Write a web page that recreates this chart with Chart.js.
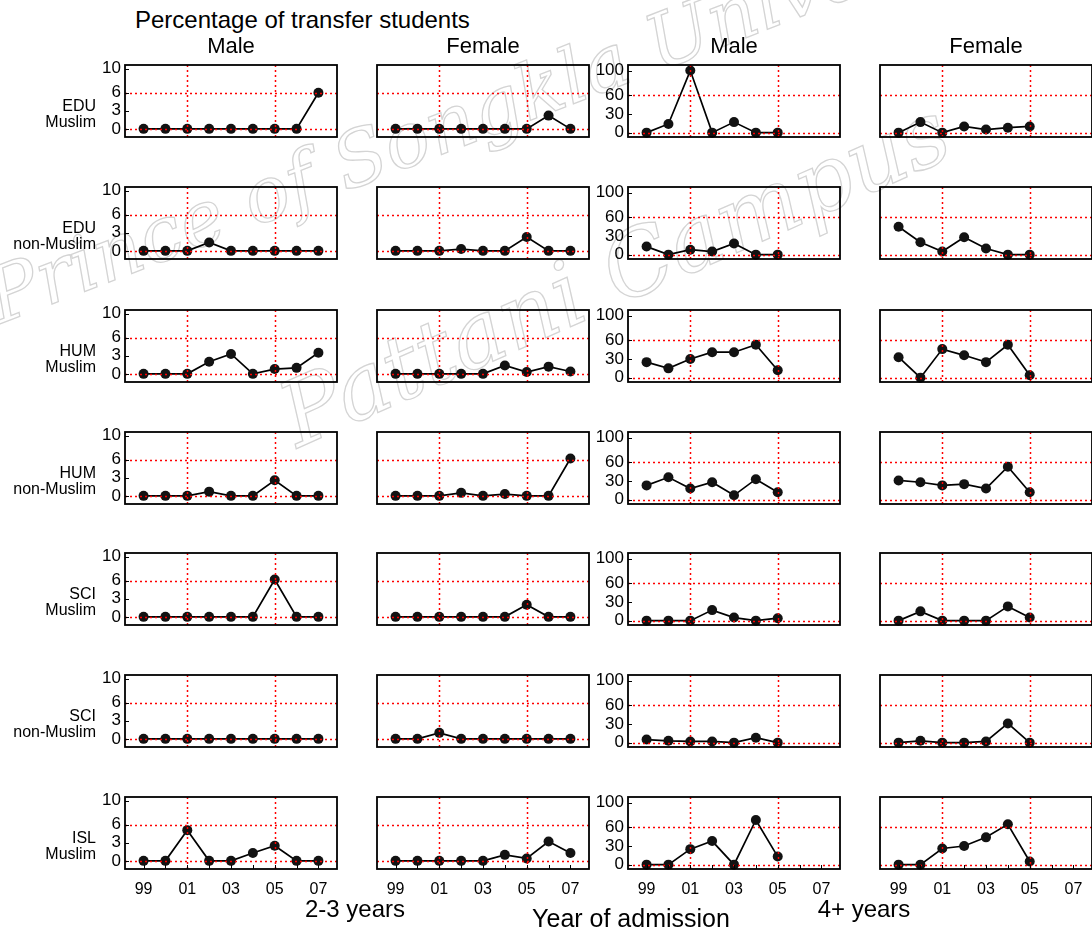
<!DOCTYPE html>
<html>
<head>
<meta charset="utf-8">
<script src="https://cdn.jsdelivr.net/npm/chart.js@4"></script>
<style>
  body { margin: 0; background: #fff; font-family: "Liberation Sans", Arial, sans-serif; }
  #wrap { position: relative; width: 1092px; height: 934px; overflow: hidden; }
  .lbl { position: absolute; white-space: nowrap; color: #000; line-height: 1; }
  .wm { position: absolute; white-space: nowrap; line-height: 1; color: transparent;
        font-family: "DejaVu Serif", serif; font-style: italic;
        -webkit-text-stroke: 1.3px #d4d4d4; transform-origin: 0 50%; }
  canvas { position: absolute; }
</style>
</head>
<body>
<div id="wrap"></div>
<script>
// year index 0 = 1999
var shortYears = [0, 1, 2, 3, 4, 5, 6, 7, 8];   // 2-3 years programmes, 99..07
var longYears = [0, 1, 2, 3, 4, 5, 6];          // 4+ years programmes, 99..05
var xTickPos = [0, 2, 4, 6, 8];
var xTickText = ['99', '01', '03', '05', '07'];
var shortTicks = [0, 3, 6, 10];
var longTicks = [0, 30, 60, 100];

var rowFaculty = ['EDU', 'EDU', 'HUM', 'HUM', 'SCI', 'SCI', 'ISL'];
var rowReligion = ['Muslim', 'non-Muslim', 'Muslim', 'non-Muslim', 'Muslim', 'non-Muslim', 'Muslim'];
var colTitles = ['Male', 'Female', 'Male', 'Female'];

// 2-3 years, male (one row per faculty/religion)
var shortMale = [
  [0, 0, 0, 0, 0, 0, 0, 0, 6],
  [0, 0, 0, 1.4, 0, 0, 0, 0, 0],
  [0, 0, 0, 2.0, 3.3, 0, 0.8, 1.0, 3.5],
  [0, 0, 0, 0.7, 0, 0, 2.6, 0, 0],
  [0, 0, 0, 0, 0, 0, 6.2, 0, 0],
  [0, 0, 0, 0, 0, 0, 0, 0, 0],
  [0, 0, 5.1, 0, 0, 1.3, 2.5, 0, 0]
];
// 2-3 years, female
var shortFemale = [
  [0, 0, 0, 0, 0, 0, 0, 2.2, 0],
  [0, 0, 0, 0.3, 0, 0, 2.3, 0, 0],
  [0, 0, 0, 0, 0, 1.4, 0.3, 1.2, 0.4],
  [0, 0, 0, 0.5, 0, 0.3, 0, 0, 6.2],
  [0, 0, 0, 0, 0, 0, 2.0, 0, 0],
  [0, 0, 1.0, 0, 0, 0, 0, 0, 0],
  [0, 0, 0, 0, 0, 1.0, 0.4, 3.2, 1.3]
];
// 4+ years, male
var longMale = [
  [0, 14, 100, 0, 17, 0, 0],
  [13, 0, 8, 5, 18, 0, 0],
  [25, 15, 30, 41, 41, 53, 12],
  [23, 36, 18, 28, 7, 33, 12],
  [0, 0, 0, 17, 5, 0, 4],
  [5, 3, 2, 2, 0, 8, 0],
  [0, 0, 25, 38, 0, 72, 13]
];
// 4+ years, female
var longFemale = [
  [0, 17, 0, 10, 5, 8, 10],
  [45, 20, 5, 28, 10, 0, 0],
  [33, 0, 46, 36, 25, 53, 4],
  [31, 28, 23, 25, 18, 53, 12],
  [0, 15, 0, 0, 0, 23, 5],
  [0, 3, 0, 0, 2, 31, 0],
  [0, 0, 26, 30, 44, 65, 5]
];

var colLeft = [125, 377, 628, 880];
var rowTop = [65, 187, 310, 432, 553, 675, 797];
var frameW = 212, frameH = 72;
var padL = 40, padT = 10, padR = 10, padB = 30;

var wrap = document.getElementById('wrap');

function addText(txt, x, y, size, align) {
  var d = document.createElement('div');
  d.className = 'lbl';
  d.textContent = txt;
  d.style.fontSize = size + 'px';
  d.style.left = x + 'px';
  d.style.top = y + 'px';
  if (align == 'center') d.style.transform = 'translate(-50%,-50%)';
  else if (align == 'right') d.style.transform = 'translate(-100%,-50%)';
  else d.style.transform = 'translate(0,-50%)';
  wrap.appendChild(d);
}

function addWatermark(txt, x, y, size, angle) {
  var d = document.createElement('div');
  d.className = 'wm';
  d.textContent = txt;
  d.style.fontSize = size + 'px';
  d.style.left = x + 'px';
  d.style.top = (y - size / 2) + 'px';
  d.style.transform = 'rotate(' + angle + 'deg)';
  wrap.appendChild(d);
}

// red dotted grid, black box and small inner ticks
var framePlugin = {
  id: 'framePlugin',
  afterDatasetsDraw: function(chart) {
    var o = chart.options.plugins.framePlugin;
    var a = chart.chartArea, ctx = chart.ctx;
    var xs = chart.scales.x, ys = chart.scales.y;
    ctx.save();
    ctx.strokeStyle = '#ff0000';
    ctx.lineWidth = 1.5;
    ctx.setLineDash([2, 3]);
    o.gridX.forEach(function(v) {
      var px = Math.round(xs.getPixelForValue(v)) + 0.5;
      ctx.beginPath(); ctx.moveTo(px, a.top); ctx.lineTo(px, a.bottom); ctx.stroke();
    });
    o.gridY.forEach(function(v) {
      var py = Math.round(ys.getPixelForValue(v)) + 0.5;
      ctx.beginPath(); ctx.moveTo(a.left, py); ctx.lineTo(a.right, py); ctx.stroke();
    });
    ctx.setLineDash([]);
    ctx.strokeStyle = '#000';
    ctx.lineWidth = 1;
    if (o.tickX) {
      o.tickX.forEach(function(v) {
        var px = Math.round(xs.getPixelForValue(v)) + 0.5;
        ctx.beginPath(); ctx.moveTo(px, a.bottom); ctx.lineTo(px, a.bottom - 4); ctx.stroke();
      });
    }
    if (o.tickY) {
      o.tickY.forEach(function(v) {
        var py = Math.round(ys.getPixelForValue(v)) + 0.5;
        ctx.beginPath(); ctx.moveTo(a.left, py); ctx.lineTo(a.left + 4, py); ctx.stroke();
      });
    }
    ctx.lineWidth = 1.8;
    ctx.strokeRect(a.left, a.top, a.right - a.left, a.bottom - a.top);
    ctx.restore();
  }
};

function panel(col, row, xs, values) {
  var isLong = col >= 2;
  var showY = (col == 0 || col == 2);
  var bottom = row == rowTop.length - 1;
  var yt = isLong ? longTicks : shortTicks;

  var c = document.createElement('canvas');
  var w = padL + frameW + padR, h = padT + frameH + padB;
  c.width = w; c.height = h;
  c.style.left = (colLeft[col] - padL) + 'px';
  c.style.top = (rowTop[row] - padT) + 'px';
  c.style.width = w + 'px'; c.style.height = h + 'px';
  wrap.appendChild(c);

  var pts = xs.map(function(x, i) { return { x: x, y: values[i] }; });

  new Chart(c, {
    type: 'line',
    data: {
      datasets: [{
        data: pts,
        borderColor: '#000',
        borderWidth: 1.7,
        pointRadius: 5,
        pointBackgroundColor: '#121212',
        pointBorderColor: '#121212',
        pointBorderWidth: 0,
        tension: 0,
        clip: false
      }]
    },
    options: {
      responsive: false,
      animation: false,
      events: [],
      layout: { padding: { top: padT, right: padR, left: 0, bottom: 0 } },
      plugins: {
        legend: { display: false },
        tooltip: { enabled: false },
        framePlugin: {
          gridX: [2, 6],
          gridY: isLong ? [0, 60] : [0, 6],
          tickX: bottom ? shortYears : null,
          tickY: showY ? yt : null
        }
      },
      scales: {
        x: {
          type: 'linear',
          min: -0.85, max: 8.85,
          grid: { display: false },
          border: { display: false },
          afterBuildTicks: function(s) { s.ticks = xTickPos.map(function(v) { return { value: v }; }); },
          afterFit: function(s) { s.height = padB; },
          ticks: {
            display: bottom,
            autoSkip: false,
            maxRotation: 0,
            padding: 3,
            color: '#000',
            font: { family: 'Liberation Sans', size: 16 },
            callback: function(v) { return xTickText[xTickPos.indexOf(v)]; }
          }
        },
        y: {
          type: 'linear',
          min: isLong ? -7 : -1.35,
          max: isLong ? 109 : 10.6,
          grid: { display: false },
          border: { display: false },
          afterBuildTicks: function(s) { s.ticks = yt.map(function(v) { return { value: v }; }); },
          afterFit: function(s) { s.width = padL; },
          ticks: {
            display: showY,
            autoSkip: false,
            padding: -4,
            color: '#000',
            font: { family: 'Liberation Sans', size: 17 }
          }
        }
      }
    },
    plugins: [framePlugin]
  });
}

addWatermark('Prince of Songkla University', -10, 300, 76, -21);
addWatermark('Pattani Campus', 285, 420, 90, -24);

for (var r = 0; r < rowTop.length; r++) {
  panel(0, r, shortYears, shortMale[r]);
  panel(1, r, shortYears, shortFemale[r]);
  panel(2, r, longYears, longMale[r]);
  panel(3, r, longYears, longFemale[r]);
  addText(rowFaculty[r], 96, rowTop[r] + 41, 16, 'right');
  addText(rowReligion[r], 96, rowTop[r] + 57, 16, 'right');
}

addText('Percentage of transfer students', 135, 20, 24, 'left');
for (var k = 0; k < 4; k++) addText(colTitles[k], colLeft[k] + frameW / 2, 46, 22, 'center');
addText('2-3 years', 355, 909, 24, 'center');
addText('Year of admission', 631, 918, 25, 'center');
addText('4+ years', 864, 909, 24, 'center');
</script>
</body>
</html>
